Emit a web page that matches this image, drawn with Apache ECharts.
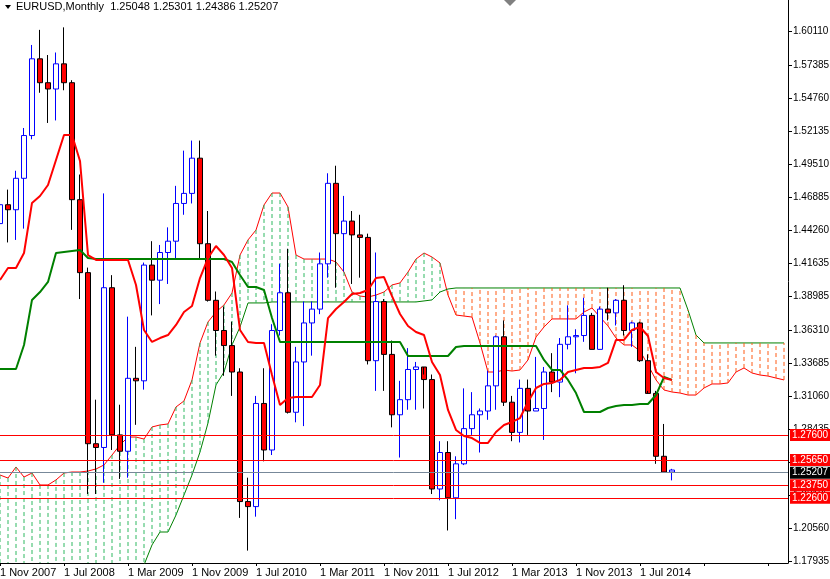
<!DOCTYPE html>
<html><head><meta charset="utf-8">
<script src="https://cdn.jsdelivr.net/npm/echarts@6/dist/echarts.min.js"></script>
<style>html,body{margin:0;padding:0;background:#fff}#c{width:830px;height:579px}</style>
</head><body><div id="c"></div>
<script>
// months: Nov 2007 .. Nov 2014 (85 bars) + 14 future periods for the cloud
const monthNames = ['Jan','Feb','Mar','Apr','May','Jun','Jul','Aug','Sep','Oct','Nov','Dec'];
const categories = [];
for (let k = 0; k < 99; k++) { const m = (10 + k) % 12; const y = 2007 + Math.floor((10 + k) / 12); categories.push('1 ' + monthNames[m] + ' ' + y); }

// OHLC [open, high, low, close]
const ohlc = [
[1.4480,1.4967,1.4440,1.4630],[1.4630,1.4750,1.4330,1.4590],
[1.4590,1.4900,1.4350,1.4840],[1.4840,1.5240,1.4440,1.5180],[1.5180,1.5900,1.5150,1.5790],[1.5790,1.6020,1.5520,1.5600],
[1.5600,1.5820,1.5280,1.5550],[1.5550,1.5840,1.5300,1.5750],[1.5750,1.6040,1.5540,1.5600],[1.5600,1.5620,1.4430,1.4670],
[1.4670,1.4870,1.3880,1.4090],[1.4090,1.4130,1.2330,1.2730],[1.2730,1.3080,1.2330,1.2700],[1.2700,1.4720,1.2420,1.3970],
[1.3970,1.4070,1.2680,1.2800],[1.2800,1.3040,1.2450,1.2670],[1.2670,1.3740,1.2460,1.3250],[1.3250,1.3500,1.2880,1.3230],
[1.3230,1.4170,1.3160,1.4150],[1.4150,1.4340,1.3750,1.4030],[1.4030,1.4310,1.3840,1.4250],[1.4250,1.4450,1.4000,1.4340],
[1.4340,1.4780,1.4200,1.4640],[1.4640,1.5060,1.4550,1.4720],[1.4720,1.5140,1.4640,1.5000],[1.5000,1.5140,1.4200,1.4320],
[1.4320,1.4580,1.3860,1.3870],[1.3870,1.3940,1.3430,1.3630],[1.3630,1.3820,1.3270,1.3510],[1.3510,1.3700,1.3110,1.3300],
[1.3300,1.3330,1.2140,1.2270],[1.2270,1.2460,1.1880,1.2230],[1.2230,1.3110,1.2150,1.3050],[1.3050,1.3330,1.2590,1.2680],
[1.2680,1.3680,1.2640,1.3630],[1.3630,1.4160,1.3590,1.3930],[1.3930,1.4280,1.2970,1.2980],[1.2980,1.3500,1.2900,1.3380],
[1.3380,1.3860,1.2870,1.3690],[1.3690,1.3860,1.3430,1.3800],[1.3800,1.4250,1.3760,1.4160],[1.4160,1.4880,1.4050,1.4800],
[1.4800,1.4940,1.3970,1.4400],[1.4400,1.4700,1.4100,1.4500],[1.4500,1.4580,1.4000,1.4390],[1.4390,1.4550,1.4050,1.4370],
[1.4370,1.4400,1.3360,1.3390],[1.3390,1.4250,1.3150,1.3860],[1.3860,1.3880,1.3150,1.3440],[1.3440,1.3550,1.2860,1.2960],
[1.2960,1.3230,1.2620,1.3080],[1.3080,1.3490,1.3000,1.3320],[1.3320,1.3380,1.3000,1.3340],[1.3340,1.3280,1.3010,1.3240],
[1.3240,1.3280,1.2330,1.2370],[1.2370,1.2750,1.2280,1.2660],[1.2660,1.2750,1.2040,1.2300],[1.2300,1.2630,1.2130,1.2570],
[1.2570,1.3170,1.2560,1.2850],[1.2850,1.3140,1.2800,1.2960],[1.2960,1.3010,1.2660,1.2990],[1.2990,1.3310,1.2920,1.3190],
[1.3190,1.3590,1.3000,1.3580],[1.3580,1.3710,1.3030,1.3060],[1.3060,1.3110,1.2750,1.2820],[1.2820,1.3240,1.2740,1.3170],
[1.3170,1.3240,1.2800,1.2990],[1.2990,1.3420,1.2990,1.3010],[1.3010,1.3340,1.2760,1.3300],[1.3300,1.3450,1.3140,1.3220],
[1.3220,1.3570,1.3100,1.3520],[1.3520,1.3830,1.3480,1.3580],[1.3580,1.3640,1.3290,1.3590],[1.3590,1.3890,1.3540,1.3750],
[1.3750,1.3770,1.3480,1.3480],[1.3480,1.3820,1.3480,1.3800],[1.3800,1.3970,1.3710,1.3770],[1.3770,1.3880,1.3670,1.3870],
[1.3870,1.3990,1.3590,1.3630],[1.3630,1.3700,1.3500,1.3690],[1.3690,1.3700,1.3380,1.3390],[1.3390,1.3440,1.3150,1.3130],
[1.3130,1.3150,1.2570,1.2630],[1.2630,1.2887,1.2500,1.25048],[1.25048,1.25301,1.24386,1.25207]
];

const tenkan = [1.4032,1.4127,1.4127,1.4246,1.4644,1.4699,1.4787,1.4986,1.5184,1.5184,1.4978,1.4230,1.4191,1.4191,1.4191,1.4191,1.4191,1.3992,1.3634,1.3539,
1.3570,1.3594,1.3674,1.3777,1.3825,1.4047,1.4206,1.4302,1.4230,1.4127,1.3634,1.3539,1.3531,1.3531,1.3276,1.3038,1.3093,1.3101,1.3101,1.3101,
1.3197,1.3729,1.3801,1.3857,1.3920,1.3928,1.3952,1.4047,1.4055,1.3904,1.3761,1.3666,1.3618,1.3594,1.3380,1.3276,1.2998,1.2839,1.2791,1.2775,
1.2736,1.2736,1.2823,1.2879,1.2903,1.2934,1.3062,1.3173,1.3205,1.3213,1.3237,1.3300,1.3316,1.3332,1.3332,1.3340,1.3372,1.3555,1.3555,1.3634,
1.3658,1.3586,1.3300,1.3252,1.3237];

const kijun = [1.3324,1.3324,1.3324,1.3515,1.3873,1.3936,1.4016,1.4246,1.4254,1.4262,1.4270,1.4206,1.4198,1.4198,1.4198,1.4198,1.4198,1.4198,1.4198,1.4198,
1.4198,1.4198,1.4198,1.4198,1.4198,1.4198,1.4198,1.4198,1.4198,1.4175,1.4071,1.3976,1.3976,1.3952,1.3729,1.3539,1.3539,1.3539,1.3539,1.3539,
1.3539,1.3539,1.3539,1.3539,1.3539,1.3539,1.3539,1.3539,1.3539,1.3539,1.3539,1.3427,1.3427,1.3427,1.3427,1.3427,1.3427,1.3499,1.3507,1.3507,
1.3507,1.3507,1.3507,1.3507,1.3507,1.3507,1.3507,1.3507,1.3396,1.3316,1.3316,1.3237,1.3133,1.2982,1.2982,1.2982,1.3014,1.3030,1.3038,1.3038,
1.3046,1.3046,1.3117,1.3260,1.3237];

const spanA = [1.2481,1.2457,1.2545,1.2465,1.2497,1.2402,1.2402,1.2442,1.2497,1.2505,1.2505,1.2513,1.2529,1.2561,1.2640,1.2720,1.2783,1.2783,1.2767,1.2863,
1.2879,1.2887,1.3022,1.3070,1.3237,1.3531,1.3698,1.3777,1.3833,1.3928,1.4230,1.4350,1.4429,1.4628,1.4723,1.4723,1.4612,1.4230,1.4198,1.4198,
1.4198,1.4198,1.4175,1.4095,1.3936,1.3904,1.3896,1.3912,1.3936,1.3992,1.4008,1.4095,1.4198,1.4246,1.4214,1.4167,1.3912,1.3753,1.3745,1.3737,
1.3531,1.3300,1.3300,1.3316,1.3308,1.3316,1.3396,1.3578,1.3658,1.3722,1.3722,1.3722,1.3722,1.3777,1.3809,1.3737,1.3666,1.3570,1.3515,1.3515,
1.3467,1.3356,1.3237,1.3157,1.3141,1.3133,1.3117,1.3117,1.3173,1.3205,1.3205,1.3213,1.3300,1.3332,1.3292,1.3276,1.3268,1.3252,1.3237];

const spanB = [1.1650,1.1650,1.1650,1.1650,1.1650,1.1650,1.1650,1.1650,1.1650,1.1650,1.1650,1.1650,1.1650,1.1650,1.1650,1.1650,1.1650,1.1700,1.1766,1.1925,
1.2028,1.2028,1.2163,1.2322,1.2481,1.2664,1.2895,1.3197,1.3300,1.3515,1.3658,1.3849,1.3849,1.3849,1.3857,1.3857,1.3857,1.3857,1.3857,1.3857,
1.3857,1.3857,1.3857,1.3857,1.3857,1.3857,1.3857,1.3857,1.3857,1.3857,1.3857,1.3857,1.3857,1.3865,1.3873,1.3936,1.3960,1.3968,1.3968,1.3968,
1.3968,1.3968,1.3968,1.3968,1.3968,1.3968,1.3968,1.3968,1.3968,1.3968,1.3968,1.3968,1.3968,1.3968,1.3968,1.3968,1.3968,1.3968,1.3968,1.3968,
1.3968,1.3968,1.3968,1.3968,1.3968,1.3968,1.3793,1.3594,1.3531,1.3531,1.3531,1.3531,1.3531,1.3531,1.3531,1.3531,1.3531,1.3531,1.3531];

const priceTicks = [1.17935,1.20560,1.23185,1.25810,1.28435,1.31060,1.33685,1.36310,1.38985,1.41635,1.44260,1.46885,1.49510,1.52135,1.54760,1.57385,1.60110];
const levels = [1.27600,1.25650,1.23750,1.22600];
const lastPrice = 1.25207;
const header = 'EURUSD,Monthly  1.25048 1.25301 1.24386 1.25207';

const candleData = ohlc.map(d => [d[0], d[3], d[2], d[1]]);
const font = 'Tahoma, "Liberation Sans", Arial, sans-serif';

const chart = echarts.init(document.getElementById('c'));
chart.setOption({
  animation: false,
  backgroundColor: '#fff',
  grid: { left: -4, right: 42, top: 0, height: 563, containLabel: false, outerBoundsMode: 'none' },
  xAxis: {
    type: 'category', data: categories, boundaryGap: true,
    axisLine: { show: true, lineStyle: { color: '#000', width: 1 } },
    axisTick: { show: true, interval: 7, length: 3, alignWithLabel: true, lineStyle: { color: '#000' } },
    axisLabel: { interval: 7, align: 'left', margin: 4, fontSize: 11, fontFamily: font, color: '#000',
      formatter: (v, i) => i < 85 ? v : '' },
    splitLine: { show: false }
  },
  yAxis: {
    type: 'value', position: 'right', min: 1.17816, max: 1.62575, scale: true,
    axisLine: { show: true, lineStyle: { color: '#000', width: 1 } },
    axisTick: { show: true, length: 4, inside: false, customValues: priceTicks, lineStyle: { color: '#000' } },
    axisLabel: { customValues: priceTicks, fontSize: 10, fontFamily: font, color: '#000', margin: 5,
      formatter: v => v.toFixed(5) },
    splitLine: { show: false }
  },
  series: [
    { type: 'line', data: spanA, symbol: 'none', lineStyle: { color: '#ff0000', width: 1 }, z: 2, clip: true, silent: true },
    { type: 'line', data: spanB, symbol: 'none', lineStyle: { color: '#008000', width: 1 }, z: 2, clip: true, silent: true },
    { type: 'custom', z: 3, clip: true, silent: true,
      data: spanA.map((a, i) => [i, a, spanB[i]]),
      renderItem: (params, api) => {
        const i = api.value(0), a = api.value(1), b = api.value(2);
        const p1 = api.coord([i, a]), p2 = api.coord([i, b]);
        return { type: 'line', shape: { x1: p1[0], y1: p1[1], x2: p2[0], y2: p2[1] },
          style: { stroke: a >= b ? '#2eb860' : '#ff5a14', lineWidth: 1, lineDash: [4, 3] } };
      }
    },
    { type: 'candlestick', data: candleData, barWidth: 6, z: 4,
      itemStyle: { color: '#ffffff', color0: '#ff0000', borderColor: '#0000ff', borderColor0: '#000000', borderWidth: 1 },
      markLine: {
        symbol: 'none', silent: true, animation: false,
        data: levels.map(v => ({ yAxis: v, lineStyle: { color: '#ff0000', width: 1, type: 'solid' },
          label: { show: true, position: 'end', distance: 2, formatter: v.toFixed(5), color: '#fff', backgroundColor: '#ff0000', padding: [1, 2], fontSize: 10, fontFamily: font } }))
          .concat([{ yAxis: lastPrice, lineStyle: { color: '#778899', width: 1, type: 'solid' },
          label: { show: true, position: 'end', distance: 2, formatter: lastPrice.toFixed(5), color: '#fff', backgroundColor: '#000', padding: [1, 2], fontSize: 10, fontFamily: font } }])
      }
    },
    { type: 'line', data: kijun, symbol: 'none', lineStyle: { color: '#008000', width: 2 }, z: 5, silent: true },
    { type: 'line', data: tenkan, symbol: 'none', lineStyle: { color: '#ff0000', width: 2 }, z: 6, silent: true }
  ],
  graphic: [
    { type: 'polygon', shape: { points: [[5, 5], [11, 5], [8, 9]] }, style: { fill: '#000' }, z: 10 },
    { type: 'text', left: 16, top: 1, style: { text: header, fontSize: 11, fontFamily: font, fill: '#000' }, z: 10 },
    { type: 'polygon', shape: { points: [[504, 0], [516, 0], [510, 6]] }, style: { fill: '#808080' }, z: 10 }
  ]
});
</script></body></html>
